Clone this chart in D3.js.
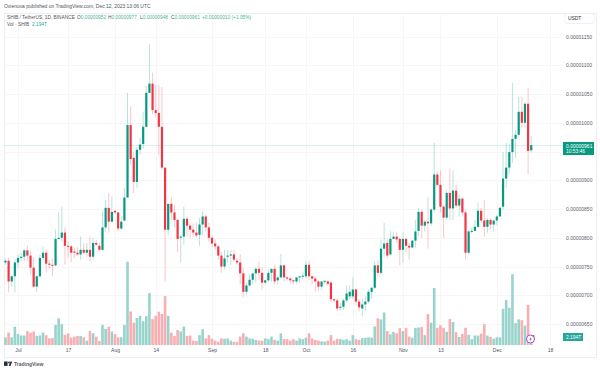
<!DOCTYPE html>
<html>
<head>
<meta charset="UTF-8">
<title>SHIB / TetherUS</title>
<script src="https://d3js.org/d3.v7.min.js"></script>
<style>
html,body{margin:0;padding:0;background:#fff}
text{font-family:"Liberation Sans",Arial,sans-serif}
</style>
</head>
<body>
<div id="svg"></div>
<script>
// prices in units of 0.00000001, volume in trillions, one entry per day from firstDay
const firstDay = new Date(Date.UTC(2023, 5, 27))
const opens = [757,760,724,733,757,765,767,778,769,748,
  715,733,765,774,755,753,752,798,800,809,
  786,785,776,774,771,779,774,779,767,791,
  786,779,818,852,828,847,844,816,830,870,
  996,939,897,953,963,993,1052,1068,1022,1017,
  993,922,814,859,844,831,800,802,833,821,
  814,809,805,823,837,818,800,790,785,769,
  750,767,769,771,760,757,738,706,717,727,
  738,746,739,722,726,739,746,726,731,752,
  731,729,726,724,731,733,733,753,733,729,
  724,715,724,724,722,693,691,679,680,691,
  698,698,710,689,677,684,689,706,713,752,
  739,781,791,771,798,802,798,779,798,786,
  783,795,812,845,821,828,825,849,910,892,
  854,835,878,851,882,856,868,844,774,811,
  812,819,847,830,819,831,823,830,837,854,
  903,922,949,972,979,1019,1000,1033,952]
const closes = [760,724,733,757,765,767,778,769,748,715,
  733,765,774,755,753,752,798,800,809,786,
  785,774,774,771,779,774,779,767,791,788,
  779,818,852,828,845,844,816,828,870,996,
  937,897,953,962,993,1052,1068,1022,1017,993,
  922,814,859,844,831,798,802,833,821,814,
  809,804,823,837,818,800,790,785,769,750,
  764,769,771,762,757,738,706,717,727,738,
  746,739,722,726,739,746,724,731,752,731,
  729,726,724,731,733,734,753,733,729,724,
  715,724,725,720,693,691,677,680,691,703,
  706,710,689,679,684,689,706,713,752,739,
  781,790,769,798,802,797,779,798,786,783,
  795,811,845,821,828,825,849,910,892,854,
  835,878,851,882,856,868,844,774,811,812,
  819,847,830,819,831,823,830,837,852,903,
  922,949,972,979,1019,1000,1033,951,961]
const highs = [764,765,736,764,771,774,781,786,778,765,
  736,771,785,779,762,764,814,844,854,818,
  793,788,783,783,802,791,791,802,800,797,
  791,847,866,878,873,847,845,837,887,1052,
  1029,948,958,974,1019,1064,1137,1087,1066,1066,
  1062,922,859,871,857,833,805,854,837,826,
  825,826,835,847,840,826,805,797,788,776,
  779,779,779,779,765,771,748,722,736,738,
  748,759,748,727,745,746,753,734,772,755,
  733,731,727,731,733,741,759,759,733,733,
  727,724,727,726,724,694,694,687,694,717,
  717,731,713,693,694,698,710,715,759,762,
  797,826,797,812,811,809,800,809,800,790,
  797,831,852,849,831,871,852,965,915,917,
  857,884,920,917,892,875,871,849,814,818,
  831,861,852,866,835,835,831,840,854,949,
  965,962,1069,988,1045,1045,1036,1061,977]
const lows = [753,705,715,705,748,759,759,759,736,713,
  706,731,762,741,745,733,750,797,793,753,
  765,757,765,769,762,771,767,759,762,786,
  776,776,811,809,826,842,811,814,828,870,
  927,877,887,944,955,991,1052,1014,1009,944,
  918,724,804,831,818,774,757,788,802,800,
  802,800,786,805,811,793,783,779,762,739,
  745,757,753,759,753,719,696,701,715,719,
  722,727,710,719,722,724,719,719,731,724,
  726,720,719,720,722,727,729,726,719,706,
  708,710,719,717,689,687,672,673,675,687,
  693,693,682,672,663,672,686,694,710,734,
  736,767,765,769,797,791,752,757,774,762,
  781,783,802,800,811,781,821,845,889,844,
  800,831,831,831,852,837,837,762,771,807,
  811,818,826,802,809,814,811,821,837,849,
  887,911,930,939,975,991,991,910,948]
const volumes = [2.1,3.4,2.1,5.0,3.0,2.6,2.6,3.8,3.4,3.7,
  2.5,2.6,3.4,2.7,1.8,1.9,5.5,7.3,5.7,2.8,
  3.2,2.0,2.3,2.5,2.5,2.1,1.2,3.8,3.2,2.3,
  1.1,5.5,4.4,5.0,3.7,3.0,2.1,2.1,5.5,22.8,
  9.2,6.1,7.4,8.0,6.5,7.9,14.2,7.1,8.0,9.1,
  8.5,13.4,8.0,3.4,2.5,4.1,3.7,5.1,2.5,2.6,
  1.2,1.1,2.7,4.3,1.8,2.7,1.7,1.2,0.9,1.8,
  1.7,1.8,1.2,0.9,0.8,2.3,3.2,2.3,1.8,1.7,
  1.4,1.2,1.2,1.8,1.6,2.3,1.4,1.2,3.2,1.6,
  1.6,1.2,1.6,1.2,1.8,1.6,2.0,3.2,1.8,1.4,
  1.2,1.0,0.9,1.2,2.7,1.2,1.7,1.6,1.4,1.6,
  1.2,2.7,1.6,1.4,1.9,2.0,2.1,2.0,5.1,7.3,
  7.0,8.9,3.8,2.9,3.6,3.2,4.6,3.8,4.7,2.3,
  2.0,4.7,4.8,4.9,2.7,8.5,6.1,15.6,4.7,5.4,
  4.7,3.6,7.1,6.3,3.5,2.2,3.0,4.7,2.8,1.6,
  2.6,2.6,3.1,5.7,2.6,2.2,1.7,2.1,2.1,9.9,
  12.3,10.2,19.4,6.0,7.0,6.8,5.3,11.0,2.194]

const gridPrices = [650,700,750,800,850,900,950,1000,1050,1100,1150]
const priceLabels = [650,700,750,800,850,900,1000,1050,1100,1150] // 950 sits behind the last price tag
const dateTicks = [[2023,6,1],[2023,6,17],[2023,7,1],[2023,7,14],[2023,8,1],[2023,8,18],[2023,9,1],[2023,9,16],[2023,10,1],[2023,10,13],[2023,11,1],[2023,11,18]]
const dateLabels = ['Jul','17','Aug','14','Sep','18','Oct','16','Nov','13','Dec','18']
const lastPrice = 961

const green = '#089981', red = '#f23645'
const fmt = d => (d / 1e8).toFixed(8)
const dayOf = i => d3.utcDay.offset(firstDay, i)
const tickTimes = dateTicks.map(d => new Date(Date.UTC(d[0], d[1], d[2])))

const width = 600, height = 371
const frame = {left:4, right:596, top:13, bottom:357}
const plotRight = 563

const svg = d3.select('#svg').append('svg').attr('width', width).attr('height', height).style('display','block')

const xScale = d3.scaleUtc().domain([new Date(Date.UTC(2023,6,1)), new Date(Date.UTC(2023,11,18))]).range([18, 550])
const yScale = d3.scaleLinear().domain([650,1150]).range([324,36.5])
const volScale = d3.scaleLinear().domain([0,23]).range([345,261])

// frame
svg.append('rect').attr('x',frame.left+.5).attr('y',frame.top+.5)
  .attr('width',frame.right-frame.left).attr('height',frame.bottom-frame.top)
  .attr('fill','none').attr('stroke','#eeeef0')

// grid
svg.append('g').selectAll('line').data(gridPrices).join('line')
  .attr('x1',frame.left).attr('x2',plotRight)
  .attr('y1',d=>Math.round(yScale(d))+.5).attr('y2',d=>Math.round(yScale(d))+.5)
  .attr('stroke','#f6f6f7')
svg.append('g').selectAll('line').data(tickTimes).join('line')
  .attr('x1',d=>Math.round(xScale(d))+.5).attr('x2',d=>Math.round(xScale(d))+.5)
  .attr('y1',frame.top).attr('y2',frame.bottom-12)
  .attr('stroke','#f6f6f7')

// last price line
svg.append('line').attr('x1',frame.left).attr('x2',plotRight)
  .attr('y1',Math.round(yScale(lastPrice))+.5).attr('y2',Math.round(yScale(lastPrice))+.5)
  .attr('stroke',green).attr('stroke-opacity',.15)

// volume
svg.append('g').selectAll('rect').data(volumes).join('rect')
  .attr('x',(d,i)=>xScale(dayOf(i))-1.3)
  .attr('width',2.6)
  .attr('y',d=>volScale(d))
  .attr('height',d=>volScale(0)-volScale(d))
  .attr('fill',(d,i)=>closes[i]>=opens[i]?'#98d4cb':'#f9aeb2')

// wicks
svg.append('g').selectAll('line').data(highs).join('line')
  .attr('x1',(d,i)=>xScale(dayOf(i))).attr('x2',(d,i)=>xScale(dayOf(i)))
  .attr('y1',d=>yScale(d)).attr('y2',(d,i)=>yScale(lows[i]))
  .attr('stroke',(d,i)=>closes[i]>=opens[i]?green:red)
  .attr('stroke-opacity',.28).attr('stroke-width',1)

// bodies
svg.append('g').selectAll('rect').data(opens).join('rect')
  .attr('x',(d,i)=>xScale(dayOf(i))-1.1)
  .attr('width',2.2)
  .attr('y',(d,i)=>yScale(Math.max(d,closes[i])))
  .attr('height',(d,i)=>Math.max(1,Math.abs(yScale(d)-yScale(closes[i]))))
  .attr('fill',(d,i)=>closes[i]>=d?green:red)

// axes
const yAxis = d3.axisRight(yScale).tickValues(priceLabels).tickFormat(fmt).tickSize(0).tickPadding(0)
const gY = svg.append('g').attr('transform','translate(566,0)').call(yAxis)
gY.select('.domain').remove()
gY.selectAll('text').attr('font-size','5px').attr('fill','#5d606b')

const xAxis = d3.axisBottom(xScale).tickValues(tickTimes).tickFormat((d,i)=>dateLabels[i]).tickSize(0).tickPadding(0)
const gX = svg.append('g').attr('transform','translate(0,348.5)').call(xAxis)
gX.select('.domain').remove()
gX.selectAll('text').attr('font-size','5px').attr('fill','#50535e')

// price tags
svg.append('rect').attr('x',563).attr('y',142).attr('width',31).attr('height',13).attr('fill',green)
svg.append('text').attr('x',566).attr('y',147.5).attr('font-size','5px').attr('fill','#fff').text(fmt(lastPrice))
svg.append('text').attr('x',566).attr('y',153).attr('font-size','4.9px').attr('fill','#fff').text('10:53:46')
svg.append('rect').attr('x',563).attr('y',333).attr('width',20).attr('height',8).attr('fill','#26a69a')
svg.append('text').attr('x',566).attr('y',338.8).attr('font-size','4.9px').attr('fill','#fff').text('2.194T')

// unit box
svg.append('rect').attr('x',565).attr('y',13.5).attr('width',29).attr('height',10).attr('rx',2)
  .attr('fill','#fff').attr('stroke','#f0f0f3')
svg.append('text').attr('x',568).attr('y',20).attr('font-size','4.9px').attr('fill','#2a2e39').text('USDT')

// header and legend
svg.append('text').attr('x',4).attr('y',7.8).attr('font-size','4.95px').attr('fill','#50535e')
  .text('Ovienova published on TradingView.com, Dec 12, 2023 13:06 UTC')
svg.append('text').attr('x',7).attr('y',19).attr('font-size','4.8px').attr('fill','#50535e').text('SHIB / TetherUS, 1D, BINANCE')
const ohlc = [['O','0.00000952',77],['H','0.00000977',108],['L','0.00000948',140],['C','0.00000961',171]]
const legend = svg.append('g')
ohlc.forEach(o=>{
  const t = legend.append('text').attr('x',o[2]).attr('y',19).attr('font-size','4.8px').attr('fill','#50535e')
  t.append('tspan').text(o[0])
  t.append('tspan').attr('fill',green).attr('fill-opacity',.8).text(o[1])
})
legend.append('text').attr('x',202).attr('y',19).attr('font-size','4.8px').attr('fill',green).attr('fill-opacity',.8).text('+0.00000010 (+1.05%)')
svg.append('text').attr('x',7).attr('y',26.2).attr('font-size','4.8px').attr('fill','#50535e').text('Vol · SHIB')
svg.append('text').attr('x',32).attr('y',26.2).attr('font-size','4.8px').attr('fill','#26a69a').text('2.194T')

// footer logo
svg.append('text').attr('x',14).attr('y',366).attr('font-size','5px').attr('font-weight','bold').attr('fill','#5a5a5f').text('TradingView')
const logo = svg.append('g').attr('transform','translate(4,361.5)').attr('fill','#2a2e39')
logo.append('rect').attr('width',3.6).attr('height',4.4)
logo.append('circle').attr('cx',5).attr('cy',1).attr('r',.9)
logo.append('path').attr('d','M6.4 0h1.8l-1.7 4.4H4.7z')

// lightning badge
const badge = svg.append('g').attr('transform','translate(530.5,339)')
badge.append('circle').attr('r',4).attr('fill','#fff').attr('stroke','#9c4fd0').attr('stroke-width',1)
badge.append('path').attr('d','M0.8-2.4L-1.4 .4H0L-.8 2.4 1.4-.4H0z').attr('fill','#9c4fd0')
badge.append('circle').attr('cx',3).attr('cy',-3).attr('r',1).attr('fill','#f23645')
</script>
</body>
</html>
